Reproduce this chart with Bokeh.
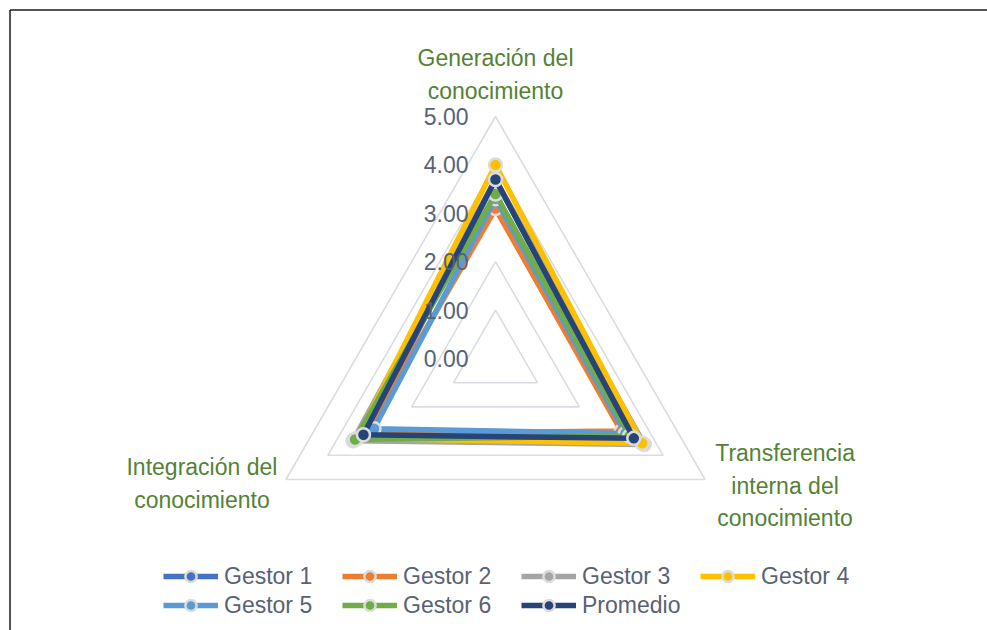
import math
from bokeh.plotting import figure
from bokeh.models import Range1d, Legend, LegendItem
from bokeh.core.properties import value
from bokeh.embed import file_html
from bokeh.resources import INLINE

# ---------------- data ----------------
categories = ["Generación del\nconocimiento",
              "Transferencia\ninterna del\nconocimiento",
              "Integración del\nconocimiento"]
series_names = ["Gestor 1", "Gestor 2", "Gestor 3", "Gestor 4", "Gestor 5", "Gestor 6", "Promedio"]
gestor1 = [3.70, 3.30, 3.10]
gestor2 = [3.10, 3.00, 3.10]
gestor3 = [3.70, 3.55, 3.40]
gestor4 = [4.00, 3.50, 3.30]
gestor5 = [3.30, 3.10, 2.90]
gestor6 = [3.40, 3.20, 3.35]
promedio = [3.70, 3.30, 3.15]
tick_values = [0, 1, 2, 3, 4, 5]

series_values = [gestor1, gestor2, gestor3, gestor4, gestor5, gestor6, promedio]
colors = ["#4472C4", "#ED7D31", "#A5A5A5", "#FFC000", "#5B9BD5", "#70AD47", "#264478"]

# ---------------- layout ----------------
W, H = 987, 630
UNIT = 48.4           # pixels per value unit
CX, CY = 495, 358     # radar centre inside the figure (px from top-left)
FONT_NAME = "Liberation Sans"
FONT = value(FONT_NAME)
TXT = "#586274"
GREEN = "#548235"

x0, x1 = -CX / UNIT, (W - CX) / UNIT
y0, y1 = -(H - CY) / UNIT, CY / UNIT

p = figure(width=W, height=H, output_backend="svg", toolbar_location=None,
           x_range=Range1d(x0, x1), y_range=Range1d(y0, y1), min_border=0)
p.axis.visible = False
p.grid.visible = False
p.outline_line_color = None
p.background_fill_color = "white"
p.border_fill_color = "white"

n = len(categories)
angles = [math.pi / 2 - i * 2 * math.pi / n for i in range(n)]


def poly(vals, close=True):
    xs = [v * math.cos(a) for v, a in zip(vals, angles)]
    ys = [v * math.sin(a) for v, a in zip(vals, angles)]
    if close:
        xs.append(xs[0])
        ys.append(ys[0])
    return xs, ys


# chart border (top and left edges, running off the page to the right and bottom)
bx, by = x0 + 9.5 / UNIT, y1 - 9.5 / UNIT
p.segment(x0=[bx, bx], y0=[by, by], x1=[x1 + 1, bx], y1=[by, y0 - 1],
          line_color="#1a1a1a", line_width=1.5)

# grid triangles
gx, gy = [], []
for t in tick_values[1:]:
    xs, ys = poly([t] * n)
    gx.append(xs)
    gy.append(ys)
p.multi_line(gx, gy, line_color="#d9dde3", line_width=1.6)

# series
items = []
for name, vals, col in zip(series_names, series_values, colors):
    xs, ys = poly(vals)
    lr = p.line(xs, ys, line_color=col, line_width=5.5, line_join="round")
    mx, my = poly(vals, close=False)
    sr = p.scatter(mx, my, size=13, marker="circle", fill_color=col,
                   line_color="#dcdcdc", line_width=2.5)
    items.append(LegendItem(label=name, renderers=[lr, sr]))

# value labels
p.text(x=[0] * len(tick_values), y=tick_values, text=[f"{t:.2f}" for t in tick_values],
       x_offset=-27, text_align="right", text_baseline="middle",
       text_font=FONT, text_font_size="23px", text_color=TXT)

# category labels
vx, vy = poly([tick_values[-1]] * n, close=False)
p.text(x=vx, y=vy, text=categories,
       x_offset=[0, 80, -84], y_offset=[-42, 6, 4],
       text_align="center", text_baseline="middle", text_line_height=1.25,
       text_font=FONT, text_font_size="23px", text_color=GREEN)

# legend
legend = Legend(items=items, location=(163, 11), orientation="horizontal", ncols=4,
                glyph_width=55, glyph_height=28, label_standoff=6, label_width=117,
                label_height=28, spacing=1, padding=0, margin=0,
                border_line_color=None, background_fill_alpha=0,
                label_text_font=FONT_NAME, label_text_font_size="23px",
                label_text_color=TXT)
p.add_layout(legend)

open("out.html", "w").write(file_html(p, INLINE))
